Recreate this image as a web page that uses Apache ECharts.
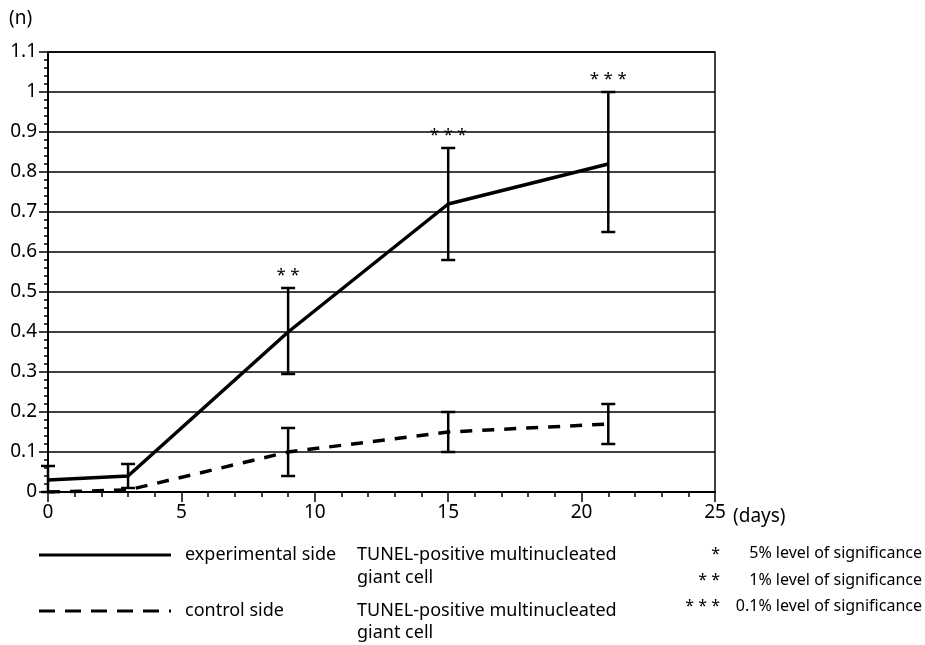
<!DOCTYPE html>
<html><head><meta charset="utf-8">
<script src="https://cdn.jsdelivr.net/npm/echarts@6/dist/echarts.min.js"></script>
<style>html,body{margin:0;padding:0;background:#fff}#c{width:925px;height:645px}</style>
</head><body><div id="c"></div>
<script>
const days = [0, 3, 9, 15, 21];
const expMean = [0.03, 0.04, 0.40, 0.72, 0.82];
const expLow  = [0.00, 0.01, 0.295, 0.58, 0.65];
const expHigh = [0.065, 0.07, 0.51, 0.86, 1.00];
const ctlMean = [0.00, 0.005, 0.10, 0.15, 0.17];
const ctlLow  = [null, null, 0.04, 0.10, 0.12];
const ctlHigh = [null, null, 0.16, 0.20, 0.22];
const sigMarks = ['', '', '* *', '* * *', '* * *'];
const yTicks = [0, 0.1, 0.2, 0.3, 0.4, 0.5, 0.6, 0.7, 0.8, 0.9, 1, 1.1];
const xTicks = [0, 5, 10, 15, 20, 25];

const FONT = 'Noto Sans';
const chart = echarts.init(document.getElementById('c'), null, {renderer: 'canvas'});

function errData(low, high, marks) {
  const out = [];
  for (let i = 0; i < days.length; i++) {
    if (low[i] === null) continue;
    out.push([days[i], low[i], high[i], marks ? marks[i] : '']);
  }
  return out;
}
function errRender(params, api) {
  const x = api.value(0);
  const lo = api.coord([x, api.value(1)]);
  const hi = api.coord([x, api.value(2)]);
  const cap = 7;
  const st = {stroke: '#000', lineWidth: 2.5};
  const children = [
    {type: 'line', shape: {x1: hi[0], y1: hi[1], x2: lo[0], y2: lo[1]}, style: st},
    {type: 'line', shape: {x1: hi[0] - cap, y1: hi[1], x2: hi[0] + cap, y2: hi[1]}, style: st},
    {type: 'line', shape: {x1: lo[0] - cap, y1: lo[1], x2: lo[0] + cap, y2: lo[1]}, style: st}
  ];
  const m = api.value(3);
  if (m) {
    children.push({type: 'text', style: {text: m, x: hi[0], y: hi[1] - 4, align: 'center', verticalAlign: 'bottom', font: '17px ' + FONT, fill: '#000'}});
  }
  return {type: 'group', children: children};
}

function txt(x, y, s, size, align) {
  return {type: 'text', x: x, y: y, style: {text: s, font: size + 'px ' + FONT, fill: '#000', align: align || 'left', verticalAlign: 'middle'}};
}

chart.setOption({
  animation: false,
  backgroundColor: '#fff',
  grid: {left: 48, right: 210, top: 52, bottom: 153, show: true, borderColor: '#000', borderWidth: 1.5, backgroundColor: 'transparent'},
  xAxis: {
    type: 'value', min: 0, max: 25, interval: 5,
    axisLine: {onZero: false, lineStyle: {color: '#000', width: 2}},
    axisTick: {show: true, length: 10, lineStyle: {color: '#000', width: 1.5}},
    minorTick: {show: true, splitNumber: 5, length: 5, lineStyle: {color: '#000', width: 1.5}},
    splitLine: {show: false},
    axisLabel: {color: '#000', fontSize: 19, fontFamily: FONT, margin: 11,
      formatter: v => xTicks.includes(v) ? String(v) : ''}
  },
  yAxis: {
    type: 'value', min: 0, max: 1.1, interval: 0.1,
    axisLine: {show: true, lineStyle: {color: '#000', width: 2}},
    axisTick: {show: true, length: 9, lineStyle: {color: '#000', width: 1.5}},
    minorTick: {show: true, splitNumber: 5, length: 4, lineStyle: {color: '#000', width: 1.5}},
    splitLine: {show: true, lineStyle: {color: '#000', width: 1.5}},
    axisLabel: {color: '#000', fontSize: 19, fontFamily: FONT, margin: 11,
      formatter: v => { const t = yTicks.find(k => Math.abs(k - v) < 1e-6); return t === undefined ? '' : String(t); }}
  },
  series: [
    {type: 'line', data: days.map((d, i) => [d, expMean[i]]), symbol: 'none',
      lineStyle: {color: '#000', width: 3.5}, z: 3},
    {type: 'line', data: days.map((d, i) => [d, ctlMean[i]]), symbol: 'none',
      lineStyle: {color: '#000', width: 3.5, type: [12, 10]}, z: 3},
    {type: 'custom', renderItem: errRender, data: errData(expLow, expHigh, sigMarks), z: 4,
      encode: {x: 0, y: [1, 2]}},
    {type: 'custom', renderItem: errRender, data: errData(ctlLow, ctlHigh, null), z: 4,
      encode: {x: 0, y: [1, 2]}}
  ],
  graphic: [
    txt(9, 19, '(n)', 19),
    txt(733, 517, '(days)', 19),
    {type: 'line', shape: {x1: 39, y1: 555, x2: 171, y2: 555}, style: {stroke: '#000', lineWidth: 3}},
    {type: 'line', shape: {x1: 39, y1: 611, x2: 171, y2: 611}, style: {stroke: '#000', lineWidth: 3, lineDash: [16, 10]}},
    txt(185, 555, 'experimental side', 18),
    txt(357, 555, 'TUNEL-positive multinucleated', 18),
    txt(357, 578, 'giant cell', 18),
    txt(185, 611, 'control side', 18),
    txt(357, 611, 'TUNEL-positive multinucleated', 18),
    txt(357, 633, 'giant cell', 18),
    txt(720, 554, '*', 16, 'right'),
    txt(720, 580, '* *', 16, 'right'),
    txt(720, 606, '* * *', 16, 'right'),
    txt(922, 553, '5% level of significance', 16, 'right'),
    txt(922, 580, '1% level of significance', 16, 'right'),
    txt(922, 606, '0.1% level of significance', 16, 'right')
  ]
});
</script></body></html>
